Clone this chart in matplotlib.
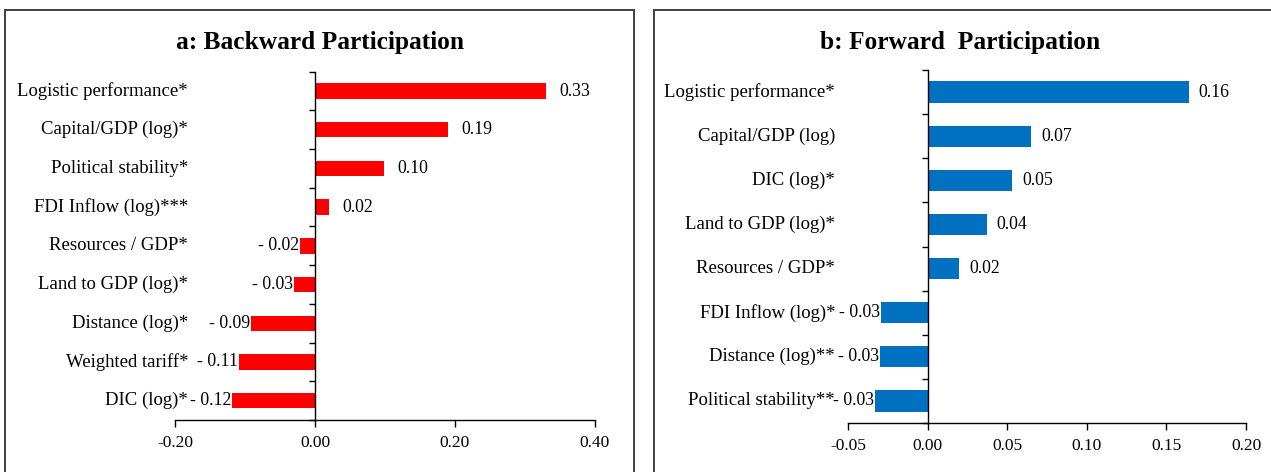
import matplotlib
matplotlib.use("Agg")
import matplotlib.pyplot as plt
from matplotlib.patches import Rectangle
import matplotlib.transforms as mtrans

plt.rcParams['font.family'] = ['Liberation Serif', 'DejaVu Serif']

# Panel a data (top to bottom)
back_labels = ["Logistic performance*", "Capital/GDP (log)*", "Political stability*",
               "FDI Inflow (log)***", "Resources / GDP*", "Land to GDP (log)*",
               "Distance (log)*", "Weighted tariff*", "DIC (log)*"]
back_values = [0.33, 0.19, 0.099, 0.02, -0.021, -0.03, -0.091, -0.109, -0.118]
back_text = ["0.33", "0.19", "0.10", "0.02", "- 0.02", "- 0.03", "- 0.09", "- 0.11", "- 0.12"]
back_ticks = [-0.20, 0.00, 0.20, 0.40]

# Panel b data (top to bottom)
fwd_labels = ["Logistic performance*", "Capital/GDP (log)", "DIC (log)*",
              "Land to GDP (log)*", "Resources / GDP*", "FDI Inflow (log)*",
              "Distance (log)**", "Political stability**"]
fwd_values = [0.164, 0.065, 0.053, 0.037, 0.020, -0.029, -0.030, -0.033]
fwd_text = ["0.16", "0.07", "0.05", "0.04", "0.02", "- 0.03", "- 0.03", "- 0.03"]
fwd_ticks = [-0.05, 0.00, 0.05, 0.10, 0.15, 0.20]

W, H = 1271, 472
fig = plt.figure(figsize=(W / 100, H / 100), dpi=100)

def px_rect(x0, y0, x1, y1):
    return [x0 / W, 1 - y1 / H, (x1 - x0) / W, (y1 - y0) / H]

# panel frames
for (x0, x1) in [(5, 634), (654, 1290)]:
    fig.patches.append(Rectangle((x0 / W, -0.05), (x1 - x0) / W, 1 - 10 / H + 0.05,
                                 transform=fig.transFigure, fill=False,
                                 edgecolor='#404040', linewidth=1.4))

FS = 13.5
VFS = 12.8

def panel(rect, labels, values, texts, ticks, color, barh, title, title_x,
          label_x_px, xlim, pos_gap):
    ax = fig.add_axes(rect)
    n = len(labels)
    ys = list(range(n))
    ax.barh(ys, values, height=barh, color=color, zorder=2)
    ax.set_ylim(n - 0.5, -0.5)
    ax.set_xlim(*xlim)
    ax.spines['top'].set_visible(False)
    ax.spines['right'].set_visible(False)
    ax.spines['left'].set_position(('data', 0))
    ax.spines['left'].set_linewidth(1.0)
    ax.spines['bottom'].set_linewidth(1.0)
    ax.set_yticks([i - 0.5 for i in range(n + 1)])
    ax.set_yticklabels([])
    ax.tick_params(axis='y', direction='out', length=4, width=1.0)
    ax.set_xticks(ticks)
    ax.set_xticklabels([f"{t:.2f}" for t in ticks], fontsize=12.5)
    ax.tick_params(axis='x', direction='out', length=5, width=1.0, pad=6)
    ax.patch.set_visible(False)
    # category labels
    trans = mtrans.blended_transform_factory(fig.transFigure, ax.transData)
    for y, lab in zip(ys, labels):
        ax.text(label_x_px / W, y, lab, transform=trans, ha='right', va='center',
                fontsize=FS)
    # value labels
    for y, v, t in zip(ys, values, texts):
        if v >= 0:
            ax.annotate(t, (v, y), xytext=(pos_gap, 0), textcoords='offset pixels',
                        ha='left', va='center', fontsize=VFS)
        else:
            ax.annotate(t, (v, y), xytext=(-1, 0), textcoords='offset pixels',
                        ha='right', va='center', fontsize=VFS)
    fig.text(title_x / W, 1 - 42 / H, title, ha='center', va='center',
             fontsize=18.3, fontweight='bold')
    return ax

panel(px_rect(175, 71.7, 595, 420), back_labels, back_values, back_text, back_ticks,
      '#FF0000', 0.40, "a: Backward Participation", 320, 188, (-0.20, 0.40), 13)
panel(px_rect(848, 70, 1246, 423), fwd_labels, fwd_values, fwd_text, fwd_ticks,
      '#0070C0', 0.48, "b: Forward  Participation", 960, 835, (-0.05, 0.20), 10)

fig.savefig("out.png", dpi=100)
